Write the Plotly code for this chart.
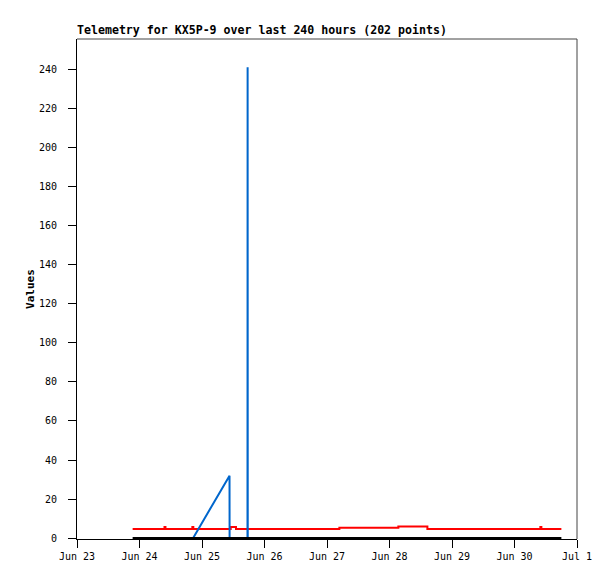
import plotly.graph_objects as go

# ---- data ----
red_times = ["2024-06-23 21:22", "2024-06-24 09:36", "2024-06-24 09:58", "2024-06-24 20:18",
             "2024-06-24 20:40", "2024-06-25 11:01", "2024-06-25 13:03", "2024-06-27 04:45",
             "2024-06-28 03:24", "2024-06-28 14:33", "2024-06-30 09:56", "2024-06-30 10:19",
             "2024-06-30 18:00"]
red_values = [4.7, 5.8, 4.7, 5.8, 4.7, 5.8, 4.7, 5.3, 6.0, 4.7, 5.8, 4.7, 4.7]

blue_times = ["2024-06-24 20:33", "2024-06-25 10:34", "2024-06-25 10:36",
              "2024-06-25 17:28", "2024-06-25 17:31", "2024-06-25 17:34"]
blue_values = [0, 32, 0, 0, 241, 0]

black_times = ["2024-06-23 21:22", "2024-06-30 18:00"]
black_values = [0, 0]

x_range = ["2024-06-23", "2024-07-01"]
y_ticks = list(range(0, 241, 20))

title_text = "Telemetry for KX5P-9 over last 240 hours (202 points)"
y_title = "Values"

FONT = "DejaVu Sans Mono"

fig = go.Figure()
fig.add_trace(go.Scatter(x=red_times, y=red_values, mode="lines", line=dict(color="#ff0000", width=2, shape="hv"),
                         hoverinfo="skip"))
fig.add_trace(go.Scatter(x=blue_times, y=blue_values, mode="lines", line=dict(color="#0066cc", width=2),
                         hoverinfo="skip"))
fig.add_trace(go.Scatter(x=black_times, y=black_values, mode="lines", line=dict(color="#000000", width=2.5),
                         hoverinfo="skip"))

fig.update_layout(
    width=615, height=579,
    margin=dict(l=69, r=46, t=31, b=48),
    paper_bgcolor="white", plot_bgcolor="white",
    showlegend=False,
    font=dict(family=FONT, size=10, color="#000000"),
    title=dict(text="<b>" + title_text + "</b>", x=69 / 615, xanchor="left", xref="container",
               y=1 - 22 / 579, yanchor="middle", yref="container",
               font=dict(family=FONT, size=11.6, color="#000000")),
    xaxis=dict(type="date", range=x_range, dtick=86400000, tick0="2024-06-23",
               tickformat="%b %-d", showgrid=False, zeroline=False,
               showline=True, linecolor="#000000", linewidth=1,
               ticks="outside", ticklen=8, tickcolor="#000000", tickwidth=1,
               tickfont=dict(family=FONT, size=10)),
    yaxis=dict(range=[-0.4, 255.5], tickvals=y_ticks, showgrid=False, zeroline=False,
               showline=True, linecolor="#000000", linewidth=1,
               ticks="outside", ticklen=8, tickcolor="#000000", tickwidth=1,
               ticklabelstandoff=9,
               tickfont=dict(family=FONT, size=10),
               title=dict(text="<b>" + y_title + "</b>", standoff=2,
                          font=dict(family=FONT, size=11))),
    shapes=[
        dict(type="line", xref="paper", yref="paper", x0=0, x1=1, y0=1, y1=1,
             line=dict(color="#444444", width=1)),
        dict(type="line", xref="paper", yref="paper", x0=1, x1=1, y0=0, y1=1,
             line=dict(color="#444444", width=1)),
    ],
)

fig.write_html("out.html")
